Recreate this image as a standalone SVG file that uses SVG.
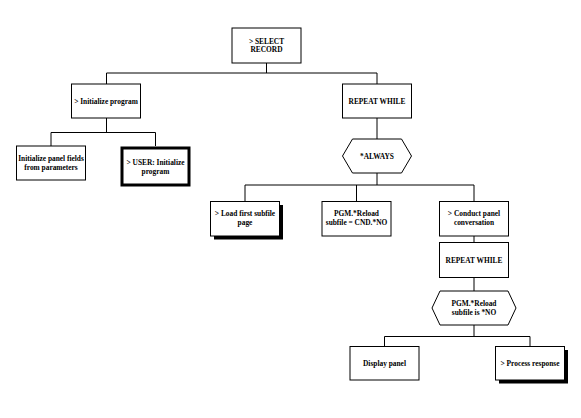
<svg xmlns="http://www.w3.org/2000/svg" width="581" height="418" viewBox="0 0 581 418">
<style>
.box{fill:#fff;stroke:#000;stroke-width:1}
.thick{fill:#fff;stroke:#000;stroke-width:3}
.shadow{fill:#000;stroke:none}
.hex{fill:#fff;stroke:#000;stroke-width:1}
.conn{fill:none;stroke:#000;stroke-width:1}
text{font-family:"Liberation Serif","Times New Roman",serif;font-weight:bold;font-size:7.4px;text-anchor:middle;fill:#000}
</style>
<rect width="581" height="418" fill="#fff"/>
<g id="connectors">
<path class="conn" d="M266.5 63V73M106.5 73H377M106.5 73V84M377 73V84"/>
<path class="conn" d="M106.5 118V132.5M51 132.5H155.5M51 132.5V146M155.5 132.5V146"/>
<path class="conn" d="M377 118V139M377 173V185M245 185H474M245 185V201.5M356.5 185V201.5M474 185V201.5"/>
<path class="conn" d="M474 236V242.5M474 277.5V291M474 325V336.5M384.5 336.5H530M384.5 336.5V346.5M530 336.5V346.5"/>
</g>
<g id="n_select_record">
<rect class="box" x="232" y="28" width="69" height="35"/>
<text x="266.5" y="43.7">&gt; SELECT</text>
<text x="266.5" y="52.4">RECORD</text>
</g>
<g id="n_initialize_program">
<rect class="box" x="71.5" y="84" width="69" height="34"/>
<text x="106" y="103.6">&gt; Initialize program</text>
</g>
<g id="n_repeat_while_1">
<rect class="box" x="342.5" y="84" width="69" height="34"/>
<text x="377" y="103.6">REPEAT WHILE</text>
</g>
<g id="n_init_panel_fields">
<rect class="box" x="16.5" y="146" width="69" height="34"/>
<text x="51" y="161">Initialize panel fields</text>
<text x="51" y="170">from parameters</text>
</g>
<g id="n_user_initialize">
<rect class="thick" x="122" y="148" width="67" height="37"/>
<text x="155.5" y="165">&gt; USER: Initialize</text>
<text x="155.5" y="174">program</text>
</g>
<g id="n_always">
<polygon class="hex" points="342.5,156 352.5,139 401.5,139 411.5,156 401.5,173 352.5,173"/>
<text x="377" y="158.6">*ALWAYS</text>
</g>
<g id="n_load_first_subfile">
<rect class="shadow" x="214" y="205" width="69" height="34.5"/>
<rect class="box" x="210.5" y="201.5" width="69" height="34.5"/>
<text x="245" y="216">&gt; Load first subfile</text>
<text x="245" y="224.8">page</text>
</g>
<g id="n_reload_subfile">
<rect class="box" x="322" y="201.5" width="69" height="34.5"/>
<text x="356.5" y="216">PGM.*Reload</text>
<text x="356.5" y="224.8">subfile = CND.*NO</text>
</g>
<g id="n_conduct_panel">
<rect class="box" x="439.5" y="201.5" width="69" height="34.5"/>
<text x="474" y="216">&gt; Conduct panel</text>
<text x="474" y="224.8">conversation</text>
</g>
<g id="n_repeat_while_2">
<rect class="box" x="439.5" y="242.5" width="69" height="35"/>
<text x="474" y="262.6">REPEAT WHILE</text>
</g>
<g id="n_reload_is_no">
<polygon class="hex" points="432,308 440,291 508,291 516,308 508,325 440,325"/>
<text x="474" y="306">PGM.*Reload</text>
<text x="474" y="314.8">subfile is *NO</text>
</g>
<g id="n_display_panel">
<rect class="box" x="350" y="346.5" width="69" height="33.5"/>
<text x="384.5" y="366">Display panel</text>
</g>
<g id="n_process_response">
<rect class="shadow" x="499" y="350" width="69" height="33.5"/>
<rect class="box" x="495.5" y="346.5" width="69" height="33.5"/>
<text x="530" y="366">&gt; Process response</text>
</g>
</svg>
